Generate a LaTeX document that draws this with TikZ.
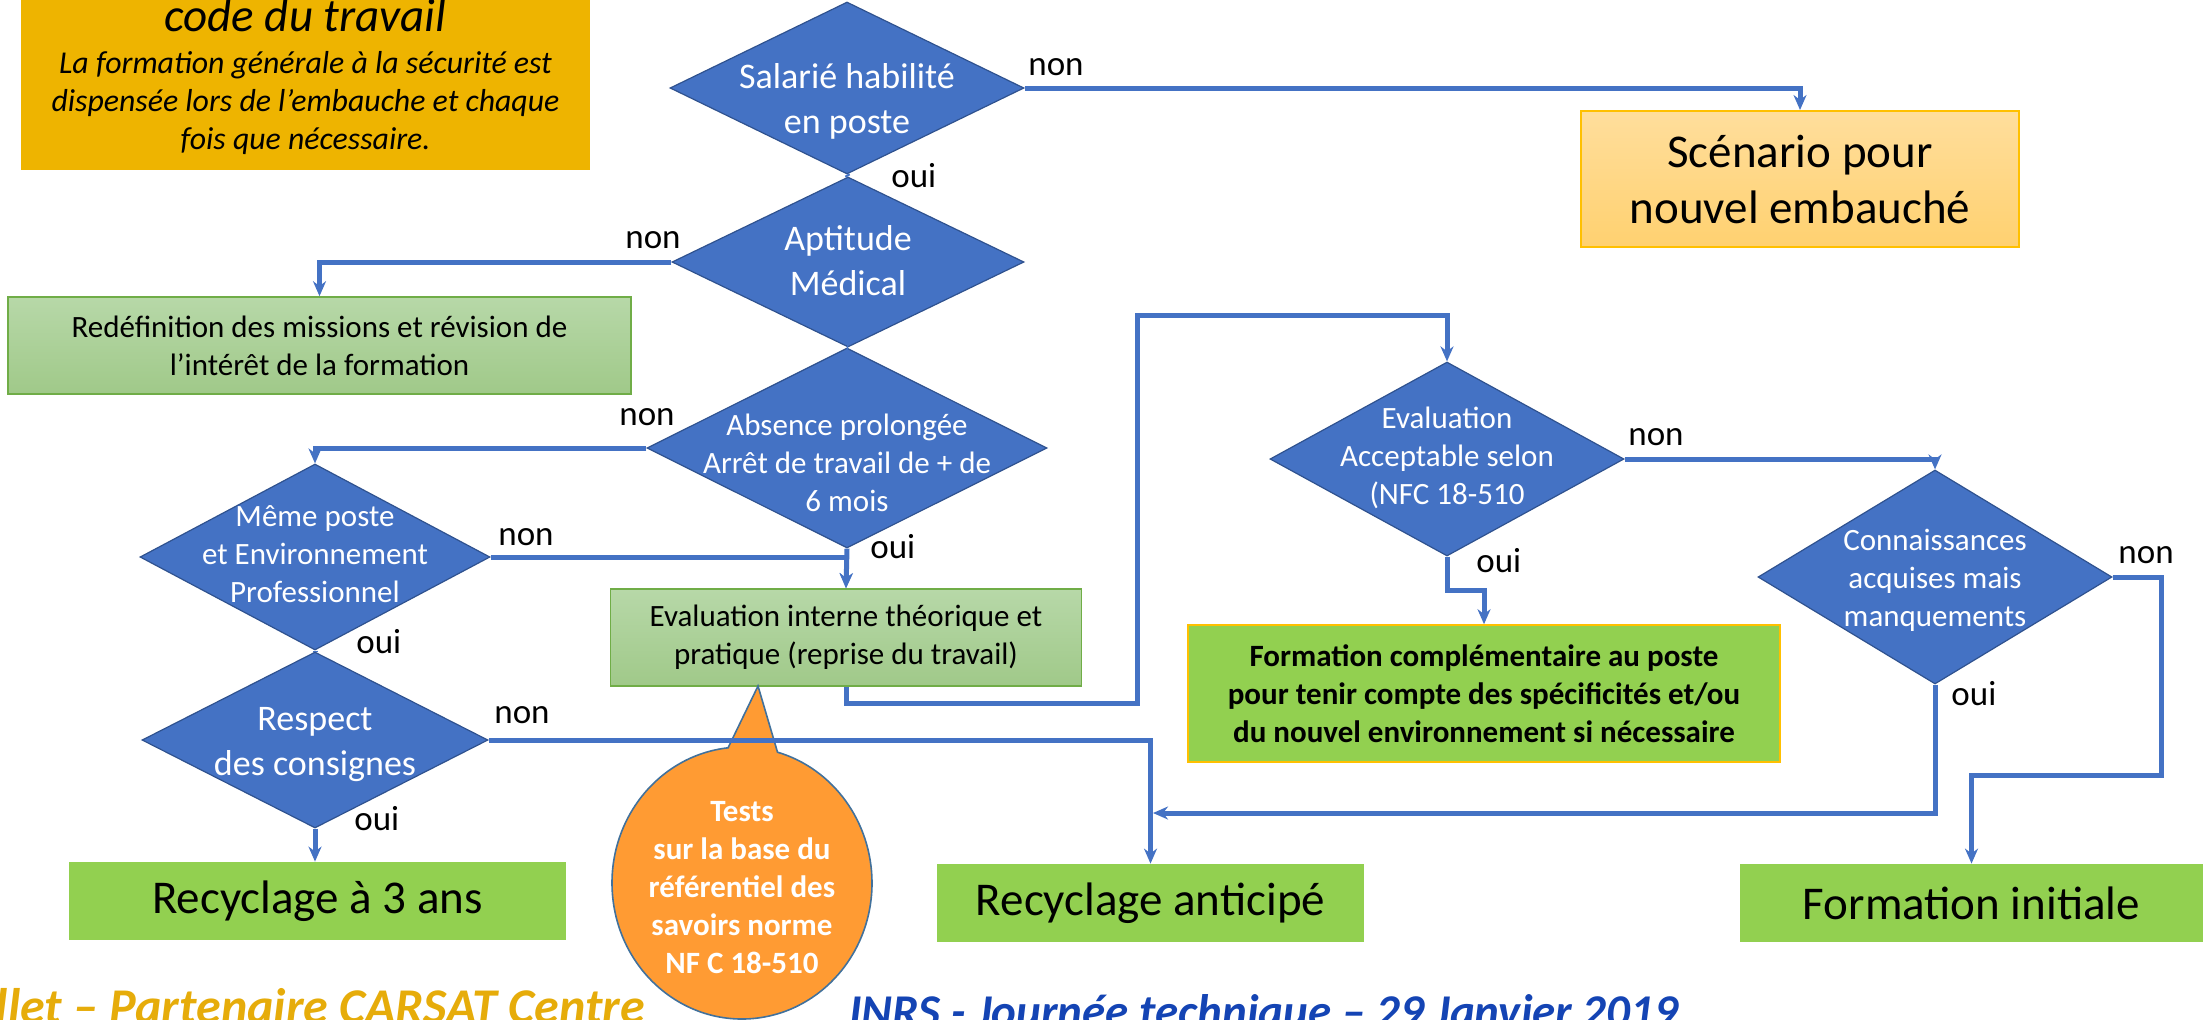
\documentclass[tikz,border=0pt]{standalone}
\usepackage{fontspec}
\setmainfont{Carlito}
\usetikzlibrary{shapes.geometric,shapes.callouts,arrows.meta}
\definecolor{diablue}{RGB}{68,114,196}
\definecolor{diaedge}{RGB}{47,82,143}
\definecolor{brightgreen}{RGB}{146,208,80}
\definecolor{paletop}{RGB}{183,216,168}
\definecolor{palebot}{RGB}{160,201,137}
\definecolor{paleedge}{RGB}{112,173,71}
\definecolor{goldfill}{RGB}{238,180,0}
\definecolor{goldedge}{RGB}{255,192,0}
\definecolor{sandtop}{RGB}{255,222,156}
\definecolor{sandbot}{RGB}{255,209,112}
\definecolor{calloutfill}{RGB}{255,155,51}
\definecolor{calloutedge}{RGB}{65,113,156}
\definecolor{footgold}{RGB}{230,172,10}
\definecolor{footblue}{RGB}{20,68,180}
\begin{document}
\begin{tikzpicture}[x=0.5pt,y=-0.5pt,
    dia/.style={diamond,fill=diablue,draw=diaedge,line width=0.6pt,inner sep=0pt},
    diatext/.style={text=white,align=center,inner sep=0pt,font=\fontsize{15.5}{19}\selectfont},
    diabig/.style={text=white,align=center,inner sep=0pt,font=\fontsize{18}{22.5}\selectfont},
    palebox/.style={draw=paleedge,line width=0.8pt,top color=paletop,bottom color=palebot,
      align=center,inner sep=0pt,font=\fontsize{15.5}{19}\selectfont},
    greenbox/.style={fill=brightgreen,inner sep=0pt,align=center,font=\fontsize{23.5}{28}\selectfont},
    conn/.style={draw=diablue,line width=2.5pt,-{Stealth[length=7.5pt,width=6.5pt]}},
    plain/.style={draw=diablue,line width=2.5pt},
    yesno/.style={anchor=base west,inner sep=0pt,font=\fontsize{17.5}{21}\selectfont}]
  \useasboundingbox (0,0) rectangle (2203,1019);
  \clip (0,0) rectangle (2203,1019);

  %%code du travail
  \node[fill=goldfill,minimum width=284.5pt,minimum height=89.5pt] (codebox) at (305.5,80) {};
  \node[anchor=base,inner sep=0pt,font=\fontsize{23.5}{28}\selectfont\itshape] (codetitle) at (305.5,31) {code du travail};
  \node[align=center,inner sep=0pt,font=\fontsize{15.9}{19}\selectfont\itshape] (codetext) at (305.5,103)
    {La formation générale à la sécurité est\\dispensée lors de l’embauche et chaque\\fois que nécessaire.};

  %%diamonds
  \node[dia,minimum width=177pt,minimum height=86pt] (sal) at (847,88) {};
    \node[diabig] (saltext) at (847,101) {Salarié habilité\\en poste};
  \node[dia,minimum width=176pt,minimum height=85pt] (apt) at (848,262) {};
    \node[diabig] (apttext) at (848,261) {Aptitude\\Médical};
  \node[dia,minimum width=200pt,minimum height=100pt] (abs) at (847,448) {};
    \node[diatext] (abstext) at (847,463) {Absence prolongée\\Arrêt de travail de + de\\6 mois};
  \node[dia,minimum width=175pt,minimum height=93pt] (meme) at (315,557) {};
    \node[diatext] (memetext) at (315,554.5) {Même poste\\et Environnement\\Professionnel};
  \node[dia,minimum width=173pt,minimum height=88pt] (resp) at (315,740) {};
    \node[diabig] (resptext) at (315,744.5) {Respect\\des consignes};
  \node[dia,minimum width=177pt,minimum height=97pt] (evacc) at (1447,459) {};
    \node[diatext] (evacctext) at (1447,457.5) {Evaluation\\Acceptable selon\\(NFC 18-510};
  \node[dia,minimum width=177pt,minimum height=107pt] (conn) at (1935,577) {};
    \node[diatext] (conntext) at (1935,580.5) {Connaissances\\acquises mais\\manquements};

  %%boxes
  \node[draw=goldedge,line width=1pt,top color=sandtop,bottom color=sandbot,align=center,
    minimum width=219pt,minimum height=68pt,font=\fontsize{23.5}{28}\selectfont] (scen) at (1800,179)
    {Scénario pour\\nouvel embauché};
  \node[palebox,minimum width=311.5pt,minimum height=48.5pt] (redef) at (319.5,345.5)
    {Redéfinition des missions et révision de\\l’intérêt de la formation};
  \node[palebox,minimum width=235.5pt,minimum height=48.5pt] (evalint) at (846,637.5)
    {Evaluation interne théorique et\\pratique (reprise du travail)};
  \node[fill=brightgreen,draw=goldedge,line width=0.8pt,align=center,minimum width=296pt,minimum height=68.5pt,
    font=\fontsize{15.5}{19}\selectfont\bfseries] (formcomp) at (1484,693.5)
    {Formation complémentaire au poste\\pour tenir compte des spécificités et/ou\\du nouvel environnement si nécessaire};
  \node[greenbox,minimum width=248.5pt,minimum height=39pt] (rec3) at (317.5,901) {Recyclage à 3 ans};
  \node[greenbox,minimum width=213.5pt,minimum height=39pt] (recant) at (1150.5,903) {Recyclage anticipé};
  \node[greenbox,minimum width=231.5pt,minimum height=39pt] (forminit) at (1971.5,903) {Formation initiale};

  %%callout
  \node[ellipse callout,fill=calloutfill,draw=calloutedge,line width=0.8pt,minimum width=130pt,minimum height=136pt,
    callout absolute pointer={(758,686)},callout pointer arc=22] (tests) at (742,883) {};
  \node[align=center,inner sep=0pt,text=white,font=\fontsize{15.5}{19}\selectfont\bfseries] (teststext) at (742,887.5)
    {Tests\\sur la base du\\référentiel des\\savoirs norme\\NF C 18-510};

  %%bends
  \coordinate (loopa) at (1137,703);
  \coordinate (loopb) at (1137,315);
  \coordinate (jog) at (1484,590);
  \coordinate (merge) at (1153,813);
  \coordinate (rbend) at (2161,775);

  %%connectors
  \draw[conn] (sal.east) -| (scen.north);
  \draw[plain] (sal.south) -- (apt.north);
  \draw[conn] (apt.west) -| (redef.north);
  \draw[plain] (apt.south) -- (abs.north);
  \draw[conn] (abs.west) -| (meme.north);
  \draw[conn] (abs.south) -- (evalint.north);
  \draw[conn] (meme.east) -| (evalint.north);
  \draw[plain] (meme.south) -- (resp.north);
  \draw[conn] (resp.east) -| (recant.north);
  \draw[conn] (resp.south) -- (rec3.north -| resp.south);
  \draw[conn] (evalint.south) |- (loopa) -- (loopb) -| (evacc.north);
  \draw[conn] (evacc.east) -| (conn.north);
  \draw[conn] (evacc.south) |- (jog) -- (formcomp.north);
  \draw[conn] (conn.south) |- (merge);
  \draw[conn] (conn.east) -| (rbend) -| (forminit.north);

  %%labels
  \node[yesno] (salnon) at (1028,75) {non};
  \node[yesno] (saloui) at (891,187) {oui};
  \node[yesno] (aptnon) at (625,248) {non};
  \node[yesno] (absnon) at (619,425) {non};
  \node[yesno] (absoui) at (870,558) {oui};
  \node[yesno] (memenon) at (498,545) {non};
  \node[yesno] (memeoui) at (356,653) {oui};
  \node[yesno] (respnon) at (494,723) {non};
  \node[yesno] (respoui) at (354,830) {oui};
  \node[yesno] (evaccnon) at (1628,445) {non};
  \node[yesno] (evaccoui) at (1476,572) {oui};
  \node[yesno] (connnon) at (2118,563) {non};
  \node[yesno] (connoui) at (1951,705) {oui};

  %%footers
  \node[anchor=base east,inner sep=0pt,text=footgold,font=\fontsize{25}{30}\selectfont\bfseries\itshape] (footleft) at (645,1023)
    {llet – Partenaire CARSAT Centre};
  \node[anchor=base west,inner sep=0pt,text=footblue,font=\fontsize{23.5}{28}\selectfont\bfseries\itshape] (footright) at (849,1027)
    {INRS - Journée technique – 29 Janvier 2019};
\end{tikzpicture}
\end{document}
